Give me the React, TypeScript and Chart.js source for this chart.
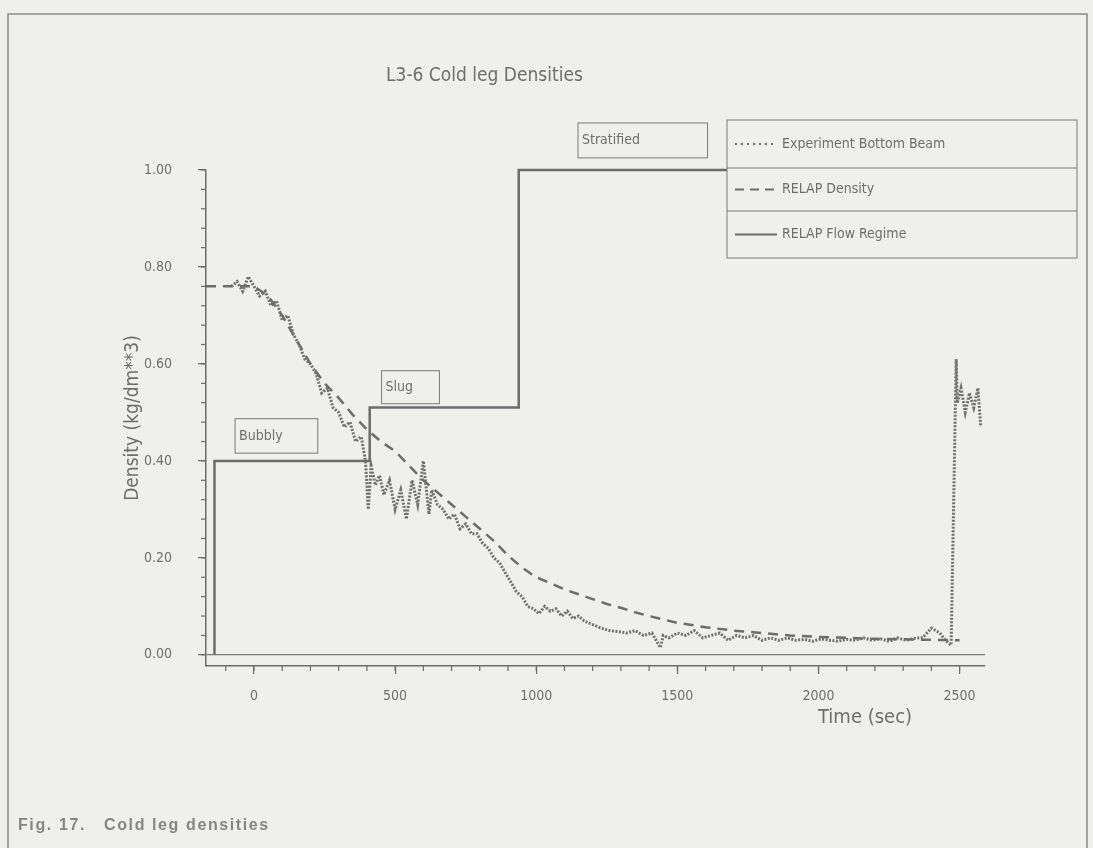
import { useEffect, useRef } from "react";
import { Chart, registerables } from "chart.js";

Chart.register(...registerables);

// ---- data ----
const expTime = [
  -80, -60, -40, -20, 0, 20, 40, 60, 80, 100, 120, 140, 160, 180, 200, 220, 240, 260, 280, 300,
  320, 340, 360, 380, 395, 405, 415, 430, 445, 460, 480, 500, 520, 540, 560, 580, 600, 620, 630, 650,
  670, 690, 710, 730, 750, 770, 790, 810, 830, 850, 870, 890, 910, 930, 950, 970, 990, 1010, 1030, 1050,
  1070, 1090, 1110, 1130, 1150, 1170, 1190, 1210, 1230, 1260, 1290, 1320, 1350, 1380, 1410, 1440, 1450, 1470, 1500, 1530,
  1560, 1590, 1620, 1650, 1680, 1710, 1740, 1770, 1800, 1830, 1860, 1890, 1920, 1950, 1980, 2010, 2040, 2070, 2100, 2130,
  2160, 2190, 2220, 2250, 2280, 2310, 2340, 2370, 2400, 2430, 2450, 2470, 2488, 2492, 2505, 2520, 2535, 2550, 2565, 2575, 2585,
];
const expDensity = [
  0.76, 0.77, 0.75, 0.78, 0.76, 0.74, 0.75, 0.72, 0.73, 0.69, 0.70, 0.66, 0.64, 0.61, 0.60, 0.58, 0.54, 0.55, 0.51, 0.50,
  0.47, 0.48, 0.44, 0.45, 0.40, 0.30, 0.39, 0.35, 0.37, 0.33, 0.36, 0.30, 0.34, 0.28, 0.36, 0.31, 0.40, 0.29, 0.34, 0.31,
  0.30, 0.28, 0.29, 0.26, 0.27, 0.25, 0.25, 0.23, 0.22, 0.20, 0.19, 0.17, 0.15, 0.13, 0.12, 0.10, 0.095, 0.085, 0.10, 0.09,
  0.095, 0.08, 0.09, 0.075, 0.08, 0.07, 0.065, 0.06, 0.055, 0.05, 0.048, 0.045, 0.05, 0.04, 0.045, 0.015, 0.04, 0.035, 0.045, 0.04,
  0.05, 0.035, 0.04, 0.045, 0.03, 0.04, 0.035, 0.04, 0.03, 0.035, 0.03, 0.035, 0.03, 0.032, 0.028, 0.033, 0.03, 0.028, 0.032, 0.03,
  0.035, 0.03, 0.033, 0.028, 0.035, 0.03, 0.034, 0.036, 0.055, 0.045, 0.03, 0.02, 0.61, 0.52, 0.55, 0.50, 0.54, 0.51, 0.55, 0.47,
];
const relapTime = [
  -170, 0, 50, 100, 150, 200, 250, 300, 350, 400, 450, 500, 550, 600, 650, 700, 750, 800, 850, 900,
  950, 1000, 1050, 1100, 1150, 1200, 1250, 1300, 1350, 1400, 1450, 1500, 1600, 1700, 1800, 1900, 2000, 2100, 2200, 2300, 2400, 2500,
];
const relapDensity = [
  0.76, 0.76, 0.74, 0.70, 0.65, 0.60, 0.56, 0.53, 0.495, 0.465, 0.44, 0.42, 0.39, 0.36, 0.335, 0.31, 0.285, 0.26, 0.235, 0.205,
  0.18, 0.16, 0.148, 0.135, 0.125, 0.115, 0.105, 0.097, 0.088, 0.08, 0.073, 0.066, 0.057, 0.05, 0.045, 0.04, 0.037, 0.035, 0.033, 0.032, 0.031, 0.03,
];
const regimeTime = [-140, -140, 410, 410, 938, 938, 2590];
const regimeValue = [0, 0.4, 0.4, 0.51, 0.51, 1.0, 1.0];

const xTickValues = [0, 500, 1000, 1500, 2000, 2500];
const yTickValues = [0, 0.2, 0.4, 0.6, 0.8, 1.0];

const regimeLabels = [
  { text: "Bubbly", t0: -67, t1: 226, v0: 0.416, v1: 0.487 },
  { text: "Slug", t0: 452, t1: 657, v0: 0.518, v1: 0.586 },
  { text: "Stratified", t0: 1148, t1: 1607, v0: 1.025, v1: 1.097 },
];

const legendItems = ["Experiment Bottom Beam", "RELAP Density", "RELAP Flow Regime"];

const INK = "#6c6c6c";
const TEXT = "#6e6e6e";
const BG = "#efefec";
const NARROW = '"Liberation Sans Narrow", "DejaVu Sans Condensed", sans-serif';

function pairs(xs: number[], ys: number[]) {
  const n = Math.min(xs.length, ys.length);
  const out: { x: number; y: number }[] = [];
  for (let i = 0; i < n; i++) out.push({ x: xs[i], y: ys[i] });
  return out;
}

export default function App() {
  const ref = useRef<HTMLCanvasElement | null>(null);

  useEffect(() => {
    if (!ref.current) return;

    const decor = {
      id: "decor",
      beforeDraw(chart: any) {
        const ctx = chart.ctx;
        ctx.save();
        ctx.fillStyle = BG;
        ctx.fillRect(0, 0, chart.width, chart.height);
        ctx.strokeStyle = "#8a8a8a";
        ctx.lineWidth = 1.5;
        ctx.strokeRect(8, 14, 1079, 850);
        ctx.restore();
      },
      afterDraw(chart: any) {
        const ctx = chart.ctx;
        const xs = chart.scales.x;
        const ys = chart.scales.y;
        ctx.save();
        // minor ticks
        ctx.strokeStyle = INK;
        ctx.lineWidth = 1.2;
        const yAxisX = chart.chartArea.left;
        for (let v = 0; v <= 1.0001; v += 0.04) {
          const py = ys.getPixelForValue(v);
          ctx.beginPath();
          ctx.moveTo(yAxisX - 5, py);
          ctx.lineTo(yAxisX, py);
          ctx.stroke();
        }
        const xAxisY = chart.chartArea.bottom;
        for (let t = -100; t <= 2500; t += 100) {
          const px = xs.getPixelForValue(t);
          ctx.beginPath();
          ctx.moveTo(px, xAxisY);
          ctx.lineTo(px, xAxisY + 5);
          ctx.stroke();
        }
        // title
        ctx.fillStyle = TEXT;
        ctx.font = `19px ${NARROW}`;
        ctx.textAlign = "left";
        ctx.textBaseline = "middle";
        ctx.fillText("L3-6 Cold leg Densities", 386, 76);
        // axis titles
        ctx.font = `20px ${NARROW}`;
        ctx.fillText("Time (sec)", 818, 718);
        ctx.save();
        ctx.translate(133, 418);
        ctx.rotate(-Math.PI / 2);
        ctx.textAlign = "center";
        ctx.font = `19px ${NARROW}`;
        ctx.fillText("Density (kg/dm**3)", 0, 0);
        ctx.restore();
        // regime label boxes
        ctx.font = `14px ${NARROW}`;
        ctx.lineWidth = 1;
        ctx.strokeStyle = "#7a7a7a";
        for (const r of regimeLabels) {
          const x0 = xs.getPixelForValue(r.t0);
          const x1 = xs.getPixelForValue(r.t1);
          const y0 = ys.getPixelForValue(r.v1);
          const y1 = ys.getPixelForValue(r.v0);
          ctx.strokeRect(x0, y0, x1 - x0, y1 - y0);
          ctx.fillText(r.text, x0 + 4, (y0 + y1) / 2);
        }
        // legend
        const lx0 = 727, lx1 = 1077;
        const rows = [120, 168, 211, 258];
        ctx.fillStyle = BG;
        ctx.fillRect(lx0, rows[0], lx1 - lx0, rows[3] - rows[0]);
        ctx.strokeStyle = "#7a7a7a";
        ctx.lineWidth = 1;
        ctx.strokeRect(lx0, rows[0], lx1 - lx0, rows[3] - rows[0]);
        ctx.beginPath();
        ctx.moveTo(lx0, rows[1]); ctx.lineTo(lx1, rows[1]);
        ctx.moveTo(lx0, rows[2]); ctx.lineTo(lx1, rows[2]);
        ctx.stroke();
        const dashes = [[2, 4], [9, 6], []];
        for (let i = 0; i < 3; i++) {
          const cy = (rows[i] + rows[i + 1]) / 2;
          ctx.strokeStyle = INK;
          ctx.lineWidth = 2;
          ctx.setLineDash(dashes[i]);
          ctx.beginPath();
          ctx.moveTo(735, cy);
          ctx.lineTo(777, cy);
          ctx.stroke();
          ctx.setLineDash([]);
          ctx.fillStyle = TEXT;
          ctx.font = `14px ${NARROW}`;
          ctx.fillText(legendItems[i], 782, cy);
        }
        // caption
        ctx.fillStyle = "#858585";
        ctx.font = 'bold 16px "Liberation Sans", Arial, sans-serif';
        (ctx as any).letterSpacing = "1.6px";
        ctx.fillText("Fig. 17.   Cold leg densities", 18, 826);
        ctx.restore();
      },
    };

    const chart = new Chart(ref.current, {
      type: "scatter",
      data: {
        datasets: [
          {
            label: "Experiment Bottom Beam",
            data: pairs(expTime, expDensity),
            showLine: true,
            borderColor: "#707070",
            borderWidth: 3,
            borderDash: [2, 1.5],
            pointRadius: 0,
          },
          {
            label: "RELAP Density",
            data: pairs(relapTime, relapDensity),
            showLine: true,
            borderColor: INK,
            borderWidth: 2.5,
            borderDash: [10, 7],
            pointRadius: 0,
          },
          {
            label: "RELAP Flow Regime",
            data: pairs(regimeTime, regimeValue),
            showLine: true,
            borderColor: INK,
            borderWidth: 2.5,
            pointRadius: 0,
            clip: false,
          } as any,
        ],
      },
      options: {
        animation: false,
        responsive: false,
        maintainAspectRatio: false,
        events: [],
        layout: { padding: { left: 0, top: 170, right: 108, bottom: 0 } },
        plugins: { legend: { display: false }, title: { display: false }, tooltip: { enabled: false } },
        scales: {
          x: {
            type: "linear",
            min: -170,
            max: 2590,
            afterFit: (s: any) => { s.height = 848 - 666; },
            afterBuildTicks: (s: any) => { s.ticks = xTickValues.map((v) => ({ value: v })); },
            ticks: {
              color: TEXT,
              font: { family: NARROW, size: 14 },
              padding: 14,
              maxRotation: 0,
              callback: (v: any) => String(v),
            },
            grid: { drawOnChartArea: false, drawTicks: true, tickLength: 8, color: INK, lineWidth: 1.2 },
            border: { display: true, color: INK, width: 1.5 },
          },
          y: {
            type: "linear",
            min: -0.023,
            max: 1.0,
            afterFit: (s: any) => { s.width = 206; },
            afterBuildTicks: (s: any) => { s.ticks = yTickValues.map((v) => ({ value: v })); },
            ticks: {
              color: TEXT,
              font: { family: NARROW, size: 14 },
              padding: 26,
              callback: (v: any) => Number(v).toFixed(2),
            },
            grid: {
              drawOnChartArea: true,
              drawTicks: true,
              tickLength: 8,
              color: (c: any) => (c.tick && c.tick.value === 0 ? "#7a7a7a" : "rgba(0,0,0,0)"),
              tickColor: INK,
              lineWidth: 1.2,
            },
            border: { display: true, color: INK, width: 1.5 },
          },
        },
      },
      plugins: [decor],
    });
    return () => chart.destroy();
  }, []);

  return (
    <div style={{ position: "absolute", left: 0, top: 0, width: 1093, height: 848 }}>
      <canvas ref={ref} width={1093} height={848} style={{ display: "block", width: 1093, height: 848 }} />
    </div>
  );
}
